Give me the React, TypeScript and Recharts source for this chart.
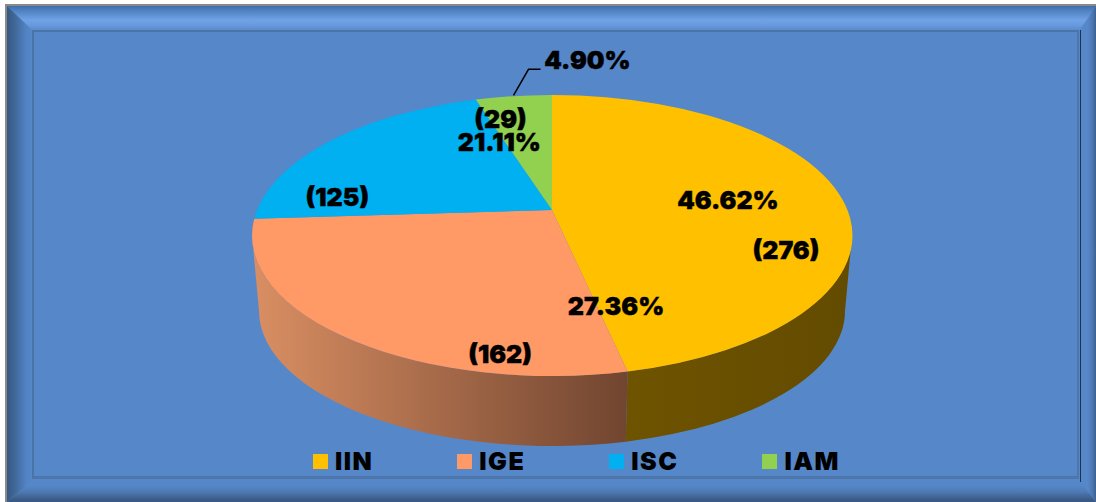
import { PieChart, Pie, Legend } from "recharts";

const categories = ["IIN", "IGE", "ISC", "IAM"];
const counts = [276, 162, 125, 29];
const percents = ["46.62%", "27.36%", "21.11%", "4.90%"];
const colors = ["#FFC000", "#FF9966", "#00B0F0", "#92D050"];

const data = categories.map((name, i) => ({ name, value: counts[i], fill: colors[i] }));

// pixel offsets of the two labels from each slice's anchor point
const pctOffsets = [[2, -1], [181, 25], [85, -25], [60, -77]];
const countOffsets = [[60, 49], [65, 73], [-77, 30], [-27, -18]];

const FONT = "Inter, sans-serif";
const W = 1096;
const H = 502;

// top face: circle seen in perspective, so the pie centre sits above the ellipse centre
const TOP = { cy: 235.5, rx: 300, ry: 140.5 };
const BOTTOM = { cy: 311, rx: 293, ry: 135 };
const K = -0.1815;
const A = 295;
const B = 135.9;

const project = (cx: number, cy: number, angle: number, r = 1) => {
  const th = ((90 - angle) * Math.PI) / 180;
  const u = r * Math.sin(th);
  const v = -r * Math.cos(th);
  const w = 1 + K * v;
  return { x: cx + (A * u) / w, y: cy + (B * v) / w };
};

const Slice3D = (props: any) => {
  const { cx, cy, startAngle, endAngle, fill, name } = props;
  const p0 = project(cx, cy, startAngle);
  const p1 = project(cx, cy, endAngle);
  const tOf = (p: { x: number; y: number }) =>
    Math.atan2((p.y - TOP.cy) / TOP.ry, (p.x - cx) / TOP.rx);
  const t0 = tOf(p0);
  let t1 = tOf(p1);
  while (t1 < t0) t1 += Math.PI * 2;
  const large = t1 - t0 > Math.PI ? 1 : 0;
  const face = `M${cx},${cy}L${p0.x},${p0.y}A${TOP.rx},${TOP.ry} 0 ${large} 1 ${p1.x},${p1.y}Z`;

  const lo = Math.max(t0, 0);
  const hi = Math.min(t1, Math.PI);
  let wall = null;
  if (hi > lo) {
    const top = (t: number) => `${cx + TOP.rx * Math.cos(t)},${TOP.cy + TOP.ry * Math.sin(t)}`;
    const bot = (t: number) => `${cx + BOTTOM.rx * Math.cos(t)},${BOTTOM.cy + BOTTOM.ry * Math.sin(t)}`;
    const d =
      `M${top(lo)}A${TOP.rx},${TOP.ry} 0 0 1 ${top(hi)}` +
      `L${bot(hi)}A${BOTTOM.rx},${BOTTOM.ry} 0 0 0 ${bot(lo)}Z`;
    const warm = name === "IGE";
    wall = (
      <g>
        <defs>
          <linearGradient id={`wall-${name}`} gradientUnits="userSpaceOnUse" x1={warm ? 255 : 627} x2={warm ? 627 : 852} y1={0} y2={0}>
            <stop offset="0" stopColor={warm ? "#D98E62" : "#6E5300"} />
            <stop offset="1" stopColor={warm ? "#714530" : "#634B00"} />
          </linearGradient>
        </defs>
        <path d={d} fill={`url(#wall-${name})`} />
      </g>
    );
  }
  return (
    <g>
      {wall}
      <path d={face} fill={fill} />
    </g>
  );
};

const SliceLabel = (props: any) => {
  const { cx, cy, midAngle, index } = props;
  const p = project(cx, cy, midAngle, 0.6);
  const style = { fontFamily: FONT, fontWeight: 900, fontSize: 25, fill: "#000", stroke: "#000", strokeWidth: 0.4 };
  return (
    <g>
      <text x={p.x + pctOffsets[index][0]} y={p.y + pctOffsets[index][1]} textAnchor="middle" dominantBaseline="central" style={style}>
        {percents[index]}
      </text>
      <text x={p.x + countOffsets[index][0]} y={p.y + countOffsets[index][1]} textAnchor="middle" dominantBaseline="central" style={style}>
        {`(${counts[index]})`}
      </text>
      {index === 3 && (
        <polyline
          points={`${p.x - 14},${p.y - 42} ${p.x + 1},${p.y - 68} ${p.x + 13},${p.y - 68}`}
          fill="none"
          stroke="#000"
          strokeWidth={1.5}
        />
      )}
    </g>
  );
};

const LegendContent = ({ payload }: any) => (
  <div style={{ display: "flex" }}>
    {(payload || []).map((e: any) => (
      <div key={e.value} style={{ marginRight: 84, display: "flex", alignItems: "center" }}>
        <span style={{ width: 15, height: 15, background: e.color, marginRight: 7 }} />
        <span style={{ fontFamily: FONT, fontWeight: 900, fontSize: 25, letterSpacing: 1.5, color: "#000" }}>{e.value}</span>
      </div>
    ))}
  </div>
);

const Bevel = ({ points, background }: { points: string; background: string }) => (
  <div style={{ position: "absolute", inset: 0, clipPath: `polygon(${points})`, background }} />
);

export default function App() {
  return (
    <div style={{ position: "absolute", left: 0, top: 0, width: W, height: H, background: "#fff", overflow: "hidden" }}>
      <div style={{ position: "absolute", left: 5, top: 4, right: 0, bottom: 0, background: "#8A8A8A" }} />
      <div style={{ position: "absolute", left: 7, top: 6, right: 0, bottom: 0, background: "#5687C9" }} />
      <Bevel
        points="7px 6px, 1096px 6px, 1080px 30px, 32px 30px"
        background="linear-gradient(180deg, #3F6EA8 6px, #4E7FBE 10px, #6FA2E6 20px, #6A9CDF 24px, #5B8CCD 30px)"
      />
      <Bevel
        points="7px 6px, 32px 30px, 32px 481px, 7px 502px"
        background="linear-gradient(90deg, #35587F 7px, #3F6796 14px, #5182C2 26px, #5687C9 32px)"
      />
      <Bevel
        points="7px 502px, 32px 481px, 1080px 481px, 1096px 502px"
        background="linear-gradient(180deg, #5687C9 481px, #5586C7 486px, #4E79B2 492px, #3A5A85 500px)"
      />
      <Bevel
        points="1096px 6px, 1080px 30px, 1080px 481px, 1096px 502px"
        background="linear-gradient(90deg, #5687C9 1080px, #5687C9 1088px, #4A74AC 1093px, #3D618F 1096px)"
      />
      <div
        style={{
          position: "absolute",
          left: 32,
          top: 30,
          width: 1047,
          height: 449,
          boxSizing: "border-box",
          borderTop: "2px solid #4A74A8",
          borderLeft: "2px solid #4A74A8",
          borderRight: "2px solid #4D76AB",
          borderBottom: "3px solid #4D76AB",
        }}
      />
      <div style={{ position: "absolute", left: 1080, top: 30, width: 1, height: 452, background: "#1D3050" }} />

      <div style={{ position: "absolute", left: 0, top: 0 }}>
        <PieChart width={W} height={H} margin={{ top: 0, right: 0, bottom: 0, left: 0 }}>
          <Pie
            data={data}
            dataKey="value"
            nameKey="name"
            cx={552}
            cy={210}
            outerRadius={200}
            startAngle={90}
            endAngle={-270}
            stroke="none"
            shape={Slice3D}
            label={SliceLabel}
            labelLine={false}
            isAnimationActive={false}
          />
          <Legend
            content={LegendContent}
            itemSorter={null}
            wrapperStyle={{ position: "absolute", left: 313, top: 446, width: 640, bottom: "auto" }}
          />
        </PieChart>
      </div>
    </div>
  );
}
